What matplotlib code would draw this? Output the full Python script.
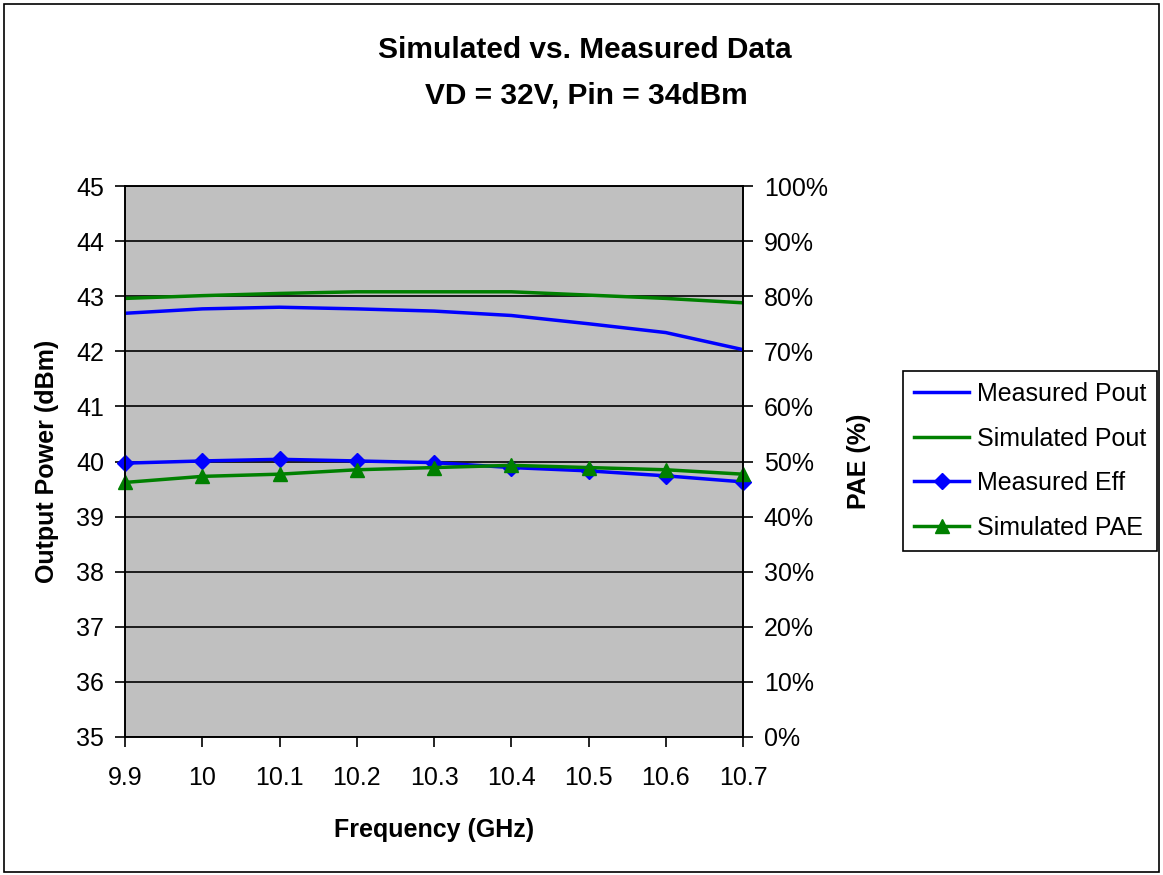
import matplotlib
matplotlib.use('Agg')
import matplotlib.pyplot as plt
from matplotlib.patches import Rectangle
from matplotlib.ticker import PercentFormatter

plt.rcParams['font.family'] = ['Liberation Sans', 'DejaVu Sans']

freq = [9.9, 10.0, 10.1, 10.2, 10.3, 10.4, 10.5, 10.6, 10.7]
meas_pout = [42.69, 42.77, 42.80, 42.77, 42.73, 42.65, 42.50, 42.34, 42.03]
sim_pout = [42.96, 43.01, 43.05, 43.08, 43.08, 43.08, 43.02, 42.96, 42.88]
meas_eff = [0.497, 0.501, 0.504, 0.501, 0.498, 0.489, 0.483, 0.474, 0.463]
sim_pae = [0.462, 0.473, 0.477, 0.485, 0.489, 0.493, 0.489, 0.485, 0.477]
xticks = [9.9, 10.0, 10.1, 10.2, 10.3, 10.4, 10.5, 10.6, 10.7]
xticklabels = ['9.9', '10', '10.1', '10.2', '10.3', '10.4', '10.5', '10.6', '10.7']

fig = plt.figure(figsize=(11.63, 8.75), dpi=100)
ax = fig.add_axes([125/1163, 1 - 737/875, 618/1163, 551/875])
ax.set_facecolor('#c0c0c0')

l1, = ax.plot(freq, meas_pout, color='#0000ff', lw=2.5, label='Measured Pout')
l2, = ax.plot(freq, sim_pout, color='#008000', lw=2.5, label='Simulated Pout')
ax.set_xlim(9.9, 10.7)
ax.set_ylim(35, 45)
ax.set_yticks(range(35, 46))
ax.set_xticks(xticks)
ax.set_xticklabels(xticklabels)
ax.yaxis.grid(True, color='black', lw=1.2)
ax.set_axisbelow(True)

ax2 = ax.twinx()
l3, = ax2.plot(freq, meas_eff, color='#0000ff', lw=2.5, marker='D', ms=8, label='Measured Eff')
l4, = ax2.plot(freq, sim_pae, color='#008000', lw=2.5, marker='^', ms=9.5, label='Simulated PAE')
ax2.set_ylim(0, 1)
ax2.set_yticks([i / 10 for i in range(11)])
ax2.yaxis.set_major_formatter(PercentFormatter(1.0, decimals=0))

for a in (ax, ax2):
    a.tick_params(labelsize=18, length=7, width=1.2, direction='out', pad=8)
    for s in a.spines.values():
        s.set_linewidth(1.2)
ax.tick_params(axis='x', pad=14)
for l in (l3, l4):
    l.set_clip_on(False)

ax.set_xlabel('Frequency (GHz)', fontsize=18, fontweight='bold', labelpad=20)
ax.set_ylabel('Output Power (dBm)', fontsize=18, fontweight='bold', labelpad=12)
ax2.set_ylabel('PAE (%)', fontsize=18, fontweight='bold', labelpad=14)

fig.text(585/1163, 1 - 50/875, 'Simulated vs. Measured Data', ha='center', va='center',
         fontsize=21.5, fontweight='bold')
fig.text(586/1163, 1 - 96/875, 'VD = 32V, Pin = 34dBm', ha='center', va='center',
         fontsize=21.5, fontweight='bold')

leg = fig.legend(handles=[l1, l2, l3, l4], loc='center left',
                 bbox_to_anchor=(903/1163, 1 - 461/875), fontsize=18,
                 frameon=True, fancybox=False, edgecolor='black', handlelength=2.2,
                 labelspacing=0.82, borderpad=0.45, handletextpad=0.3,
                 borderaxespad=0, framealpha=1)
leg.get_frame().set_linewidth(1.2)

fig.patches.append(Rectangle((4/1163, 3/875), 1155/1163, 868/875, transform=fig.transFigure,
                             fill=False, edgecolor='black', lw=1.2))

fig.savefig('out.png', dpi=100)
